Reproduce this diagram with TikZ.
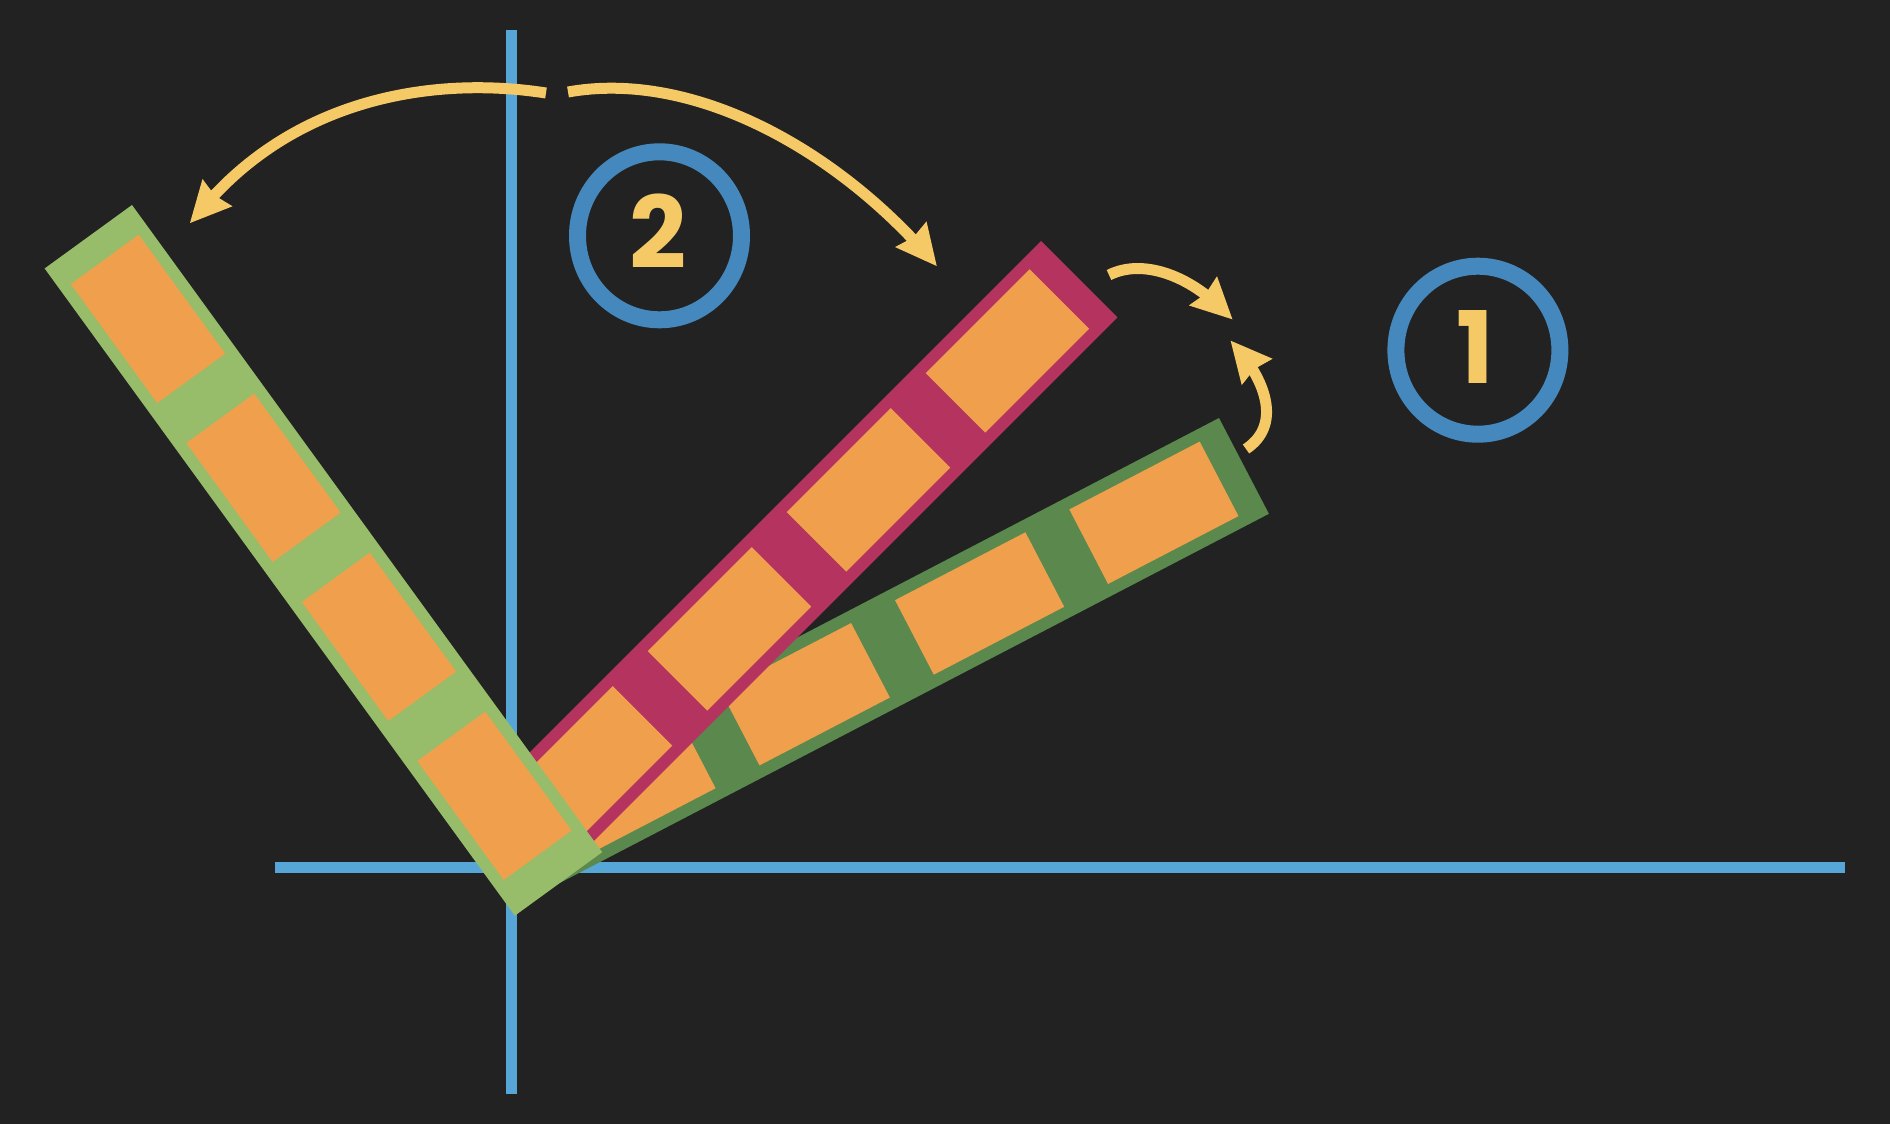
\documentclass[tikz,border=0pt]{standalone}
\usepackage{fontspec}
\newfontfamily\numfont{Poppins}
\definecolor{bgcol}{RGB}{34,34,34}
\definecolor{axiscol}{RGB}{87,166,216}
\definecolor{ringcol}{RGB}{68,136,189}
\definecolor{cellcol}{RGB}{240,160,77}
\definecolor{lgreen}{RGB}{151,189,106}
\definecolor{dgreen}{RGB}{90,136,77}
\definecolor{barcrimson}{RGB}{181,52,95}
\definecolor{turncol}{RGB}{245,201,102}
\tikzset{every picture/.style={line width=0.75pt}}
\tikzset{
  axis/.style={draw=axiscol, line width=5.5pt},
  turn/.style={draw=turncol, line width=5.5pt},
  turnhead/.style={fill=turncol, line width=0.08, draw opacity=0},
  ring/.style={draw=ringcol, line width=8.5pt},
  cell/.style={fill=cellcol},
  digit/.style={inner sep=0.75pt, text=turncol, font=\numfont\bfseries\fontsize{50}{50}\selectfont}
}

\begin{document}
\begin{tikzpicture}[x=0.5pt,y=0.5pt,yscale=-1,xscale=1]
		%background, sets the size of the diagram
		\fill [bgcol] (0,0) rectangle (1890,1124);
		\useasboundingbox (0,0) rectangle (1890,1124);
		
		%Straight Lines: axes
		\draw [axis] (511,30) -- (511,1094);
		\draw [axis] (275,867) -- (1845,867);
		
		%Shape: Polygon, first position
		\fill [dgreen] (1219,418) -- (1268.9,513.8) -- (559.3,883.2) -- (509.4,787.4) -- cycle;
		\fill [cell] (1199.7,441.57) -- (1238.48,516.08) -- (1108.09,583.95) -- (1069.31,509.44) -- cycle;
		\fill [cell] (1025.41,532.29) -- (1064.19,606.8) -- (933.8,674.67) -- (895.02,600.16) -- cycle;
		\fill [cell] (851.11,623.02) -- (889.89,697.53) -- (759.5,765.4) -- (720.72,690.89) -- cycle;
		\fill [cell] (676.82,713.74) -- (715.6,788.25) -- (585.21,856.12) -- (546.43,781.61) -- cycle;
		
		%Shape: Polygon, second position
		\fill [barcrimson] (1041,241) -- (1117.37,317.37) -- (551.68,883.06) -- (475.31,806.69) -- cycle;
		\fill [cell] (1029.69,269.29) -- (1089.08,328.68) -- (985.14,432.62) -- (925.75,373.23) -- cycle;
		\fill [cell] (890.75,408.23) -- (950.14,467.62) -- (846.19,571.57) -- (786.8,512.18) -- cycle;
		\fill [cell] (751.8,547.18) -- (811.19,606.57) -- (707.25,710.51) -- (647.86,651.12) -- cycle;
		\fill [cell] (612.86,686.12) -- (672.25,745.51) -- (568.3,849.46) -- (508.91,790.07) -- cycle;
		
		%Shape: Polygon, third position
		\fill [lgreen] (132,205) -- (44.63,268.48) -- (514.83,915.68) -- (602.2,852.2) -- cycle;
		\fill [cell] (138.75,234.7) -- (70.8,284.08) -- (157.21,403.01) -- (225.16,353.63) -- cycle;
		\fill [cell] (254.25,393.67) -- (186.3,443.05) -- (272.71,561.97) -- (340.66,512.59) -- cycle;
		\fill [cell] (369.75,552.64) -- (301.8,602.02) -- (388.21,720.94) -- (456.16,671.56) -- cycle;
		\fill [cell] (485.26,711.61) -- (417.31,760.99) -- (503.71,879.91) -- (571.66,830.53) -- cycle;
		
		%Curve Lines: turn 2
		\draw [turn] (546,93) .. controls (430,75) and (290,100) .. (198,214);
		\draw [turnhead, shift={(190,223)}, rotate = -47.8] (41,-20.3) -- (0,0) -- (41,20.3) -- (37,0) -- cycle;
		\draw [turn] (568,92) .. controls (690,70) and (832,146) .. (929,257);
		\draw [turnhead, shift={(936.7,266)}, rotate = -129.2] (41,-20.3) -- (0,0) -- (41,20.3) -- (37,0) -- cycle;
		
		%Curve Lines: turn 1
		\draw [turn] (1109,275) .. controls (1143,258) and (1190,276) .. (1223.8,311);
		\draw [turnhead, shift={(1232.4,319.3)}, rotate = -136] (41,-20.3) -- (0,0) -- (41,20.3) -- (37,0) -- cycle;
		\draw [turn] (1246,449) .. controls (1282,425) and (1265,381) .. (1238.4,349.8);
		\draw [turnhead, shift={(1230.6,340.7)}, rotate = 49.6] (41,-20.3) -- (0,0) -- (41,20.3) -- (37,0) -- cycle;
		
		%Shape: Ellipse
		\draw [ring] (659.5,235.8) ellipse (82 and 84);
		\draw [ring] (1477.9,350.2) ellipse (82 and 84);
		
		\draw (658.5,231) node [digit] (lbl2) {2};
		\draw (1475,347) node [digit] (lbl1) {1};
		
\end{tikzpicture}
\end{document}
